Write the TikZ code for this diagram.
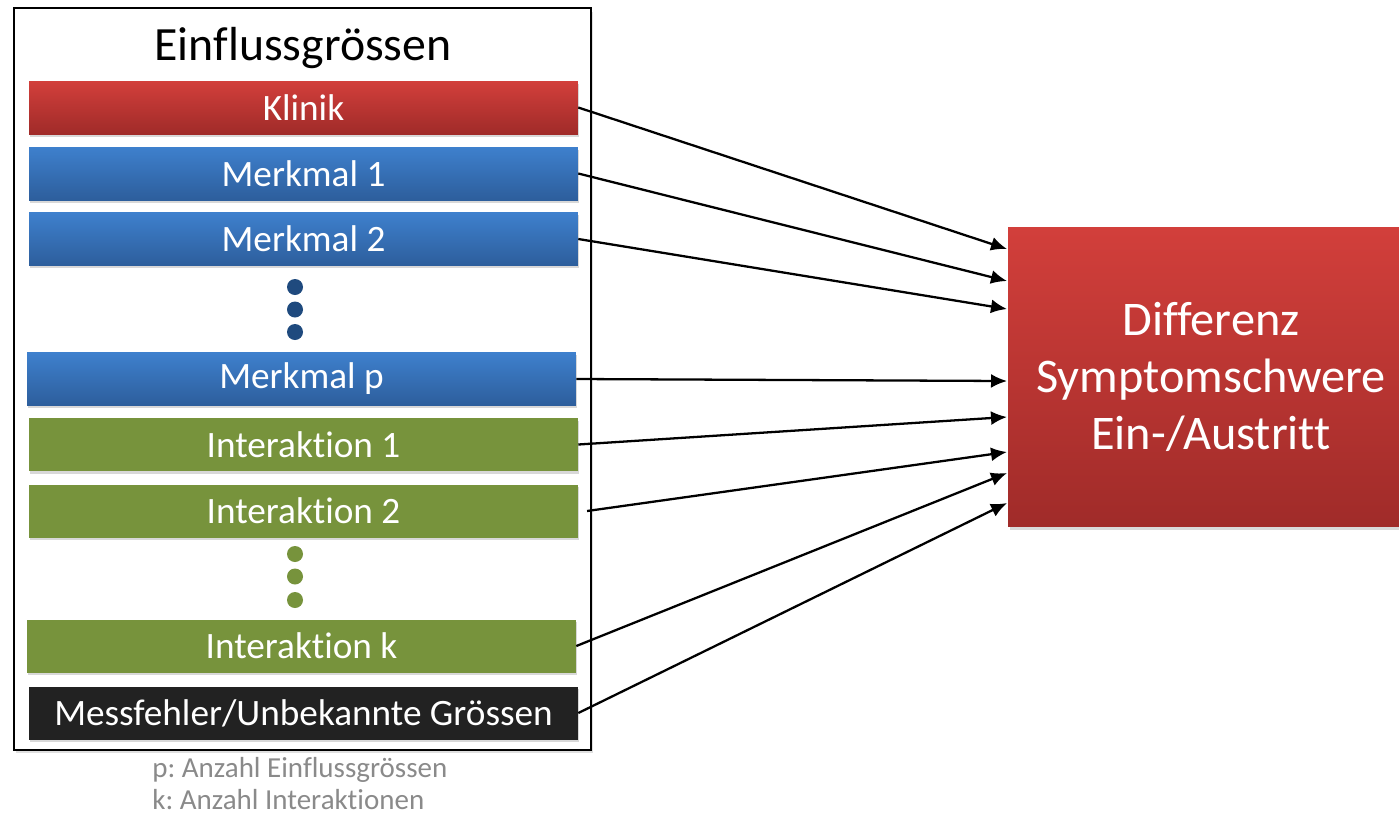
\documentclass[tikz,border=0pt]{standalone}
\usepackage{fontspec}
\setmainfont{Carlito}[Ligatures={NoCommon}]
\frenchspacing
\usetikzlibrary{arrows.meta,shadows}

\definecolor{redtop}{HTML}{D23F3B}
\definecolor{redbot}{HTML}{A02B29}
\definecolor{bluetop}{HTML}{3E80CD}
\definecolor{bluebot}{HTML}{2D5E9C}
\definecolor{dotblue}{HTML}{1F4A7E}
\definecolor{olive}{HTML}{77933C}
\definecolor{nearblack}{HTML}{222222}
\definecolor{notegray}{HTML}{8A8A8A}

\tikzset{
  bar/.style={minimum width=10.98cm, minimum height=1.06cm, inner sep=0pt,
    text=white, font=\fontsize{21.2}{24}\selectfont,
    drop shadow={shadow xshift=0.6pt, shadow yshift=-1.6pt, opacity=0.3}},
  redbar/.style={bar, top color=redtop, bottom color=redbot},
  bluebar/.style={bar, top color=bluetop, bottom color=bluebot},
  greenbar/.style={bar, fill=olive},
  blackbar/.style={bar, fill=nearblack},
  note/.style={anchor=west, text=notegray, font=\fontsize{16.5}{19}\selectfont, inner sep=0pt},
  link/.style={-{Latex[length=3.2mm,width=2.8mm]}, line width=1.3pt}
}

\begin{document}
\begin{tikzpicture}[x=0.02cm, y=-0.02cm]
    \useasboundingbox (0,0) rectangle (1399,816);
    % outer frame
    \node[draw=black, line width=0.8pt, fill=white, minimum width=11.54cm, minimum height=14.84cm,
      drop shadow={shadow xshift=1pt, shadow yshift=-2pt, opacity=0.25}] at (302.5,379) (Box) {};
    \node[font=\fontsize{27.2}{30}\selectfont] at (303,48) (Title) {Einflussgrössen};
    % factors
    \node[redbar] at (303.5,107.5) (K) {Klinik};
    \node[bluebar] at (303.5,173.5) (M1) {Merkmal 1};
    \node[bluebar] at (303.5,239) (M2) {Merkmal 2};
    \fill[dotblue] (295,287) circle (8) (295,309.5) circle (8) (295,332) circle (8);
    \node[bluebar] at (301.5,379) (Mp) {Merkmal p};
    \node[greenbar] at (303.5,444.5) (I1) {Interaktion 1};
    \node[greenbar] at (303.5,511) (I2) {Interaktion 2};
    \fill[olive] (295,554) circle (8) (295,576.5) circle (8) (295,600) circle (8);
    \node[greenbar] at (301.5,646) (Ik) {Interaktion k};
    \node[blackbar] at (303.5,713) (F) {Messfehler/Unbekannte Grössen};
    % notes
    \node[note] at (152,770) (N1) {p: Anzahl Einflussgrössen};
    \node[note] at (152,800) (N2) {k: Anzahl Interaktionen};
    % target
    \node[top color=redtop, bottom color=redbot, text=white, align=center,
      minimum width=8.12cm, minimum height=6cm,
      font=\fontsize{27.5}{32.3}\selectfont,
      drop shadow={shadow xshift=1pt, shadow yshift=-2pt, opacity=0.3}] at (1211,377) (D) {Differenz\\Symptomschwere\\Ein-/Austritt};
    \coordinate (D1) at (1007,249);
    \coordinate (D2) at (1007,281);
    \coordinate (D3) at (1007,309);
    \coordinate (D4) at (1007,381);
    \coordinate (D5) at (1007,417);
    \coordinate (D6) at (1007,452);
    \coordinate (D7) at (1007,473);
    \coordinate (D8) at (1007,503);
    \path [link] (K.east) edge (D1);
    \path [link] (M1.east) edge (D2);
    \path [link] (M2.east) edge (D3);
    \path [link] (Mp.east) edge (D4);
    \path [link] (I1.east) edge (D5);
    \path [link] ([xshift=5]I2.east) edge (D6);
    \path [link] (Ik.east) edge (D7);
    \path [link] (F.east) edge (D8);
\end{tikzpicture}
\end{document}
